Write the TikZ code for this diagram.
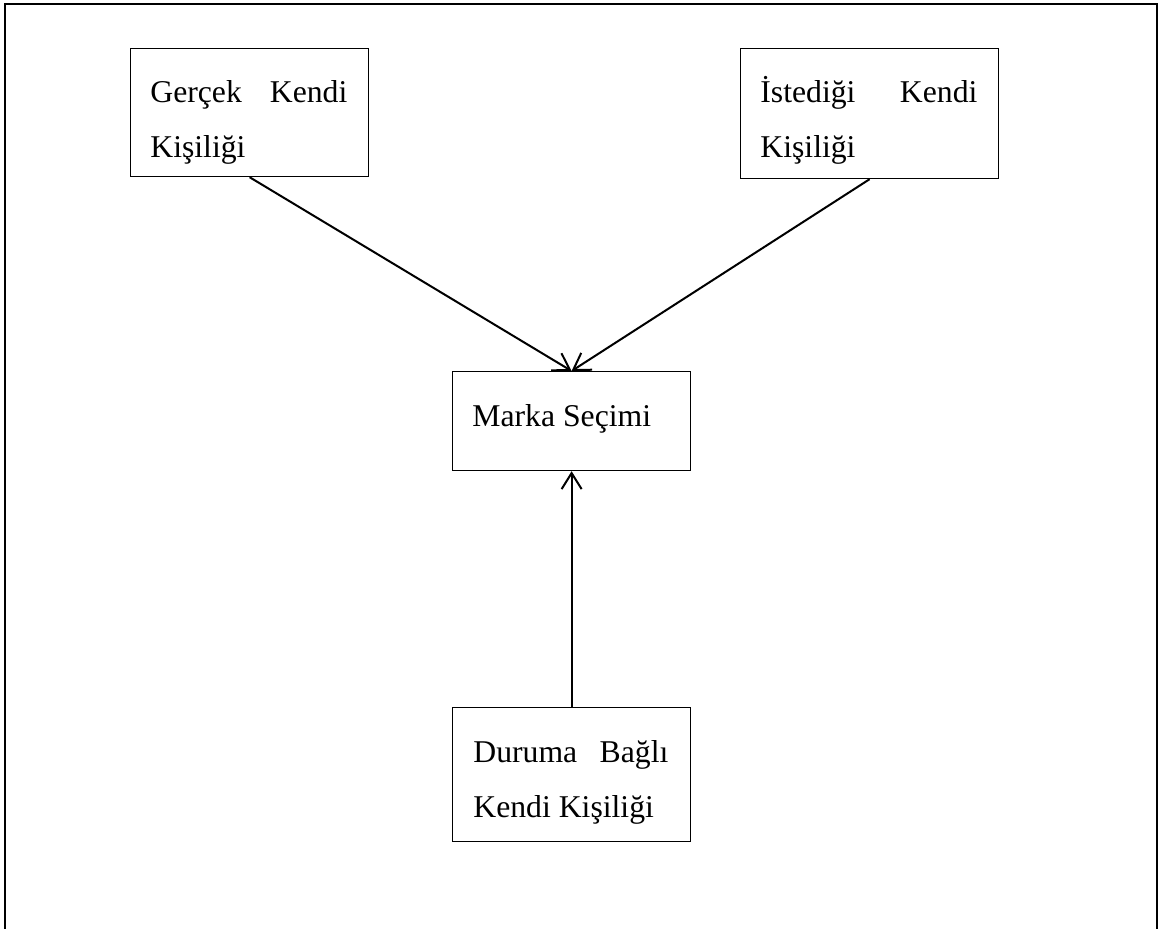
\documentclass[tikz,border=0pt]{standalone}
\usepackage{fontspec}
\setmainfont{Liberation Serif}
\usetikzlibrary{arrows.meta}
\begin{document}
\begin{tikzpicture}[x=0.5pt,y=-0.5pt,
  box/.style={draw, line width=0.6pt, inner sep=0pt, anchor=north west},
  txt/.style={anchor=base west, inner sep=0pt, font=\fontsize{15.85}{19}\selectfont},
  conn/.style={line width=1pt, -{Straight Barb[length=8pt,width=10pt,line width=1pt]}},
  frame/.style={line width=1pt}]
\useasboundingbox (0,0) rectangle (1159,929);
\draw[frame] (5,929) -- (5,4) -- (1157,4) -- (1157,929);
% boxes
\node[box, minimum width=119pt, minimum height=64pt] (b1) at (130,48) {};
\node[box, minimum width=129pt, minimum height=65pt] (b2) at (740,48) {};
\node[box, minimum width=119pt, minimum height=49.5pt] (m) at (452,371) {};
\node[box, minimum width=119pt, minimum height=67pt] (d) at (452,707) {};
% texts
\node[txt] (b1a) at (150,103) {\makebox[98.5pt][l]{Gerçek\hfill Kendi}};
\node[txt] (b1b) at (150,158) {Kişiliği};
\node[txt] (b2a) at (760,103) {\makebox[108.5pt][l]{İstediği\hfill Kendi}};
\node[txt] (b2b) at (760,158) {Kişiliği};
\node[txt] (mt) at (472,427) {Marka Seçimi};
\node[txt] (da) at (473,762) {\makebox[97.5pt][l]{Duruma\hfill Bağlı}};
\node[txt] (db) at (473,817) {Kendi Kişiliği};
% connectors
\draw[conn] (b1.south) -- (m.north);
\draw[conn] (b2.south) -- (m.north);
\draw[conn] (d.north) -- (m.south);
\end{tikzpicture}
\end{document}
